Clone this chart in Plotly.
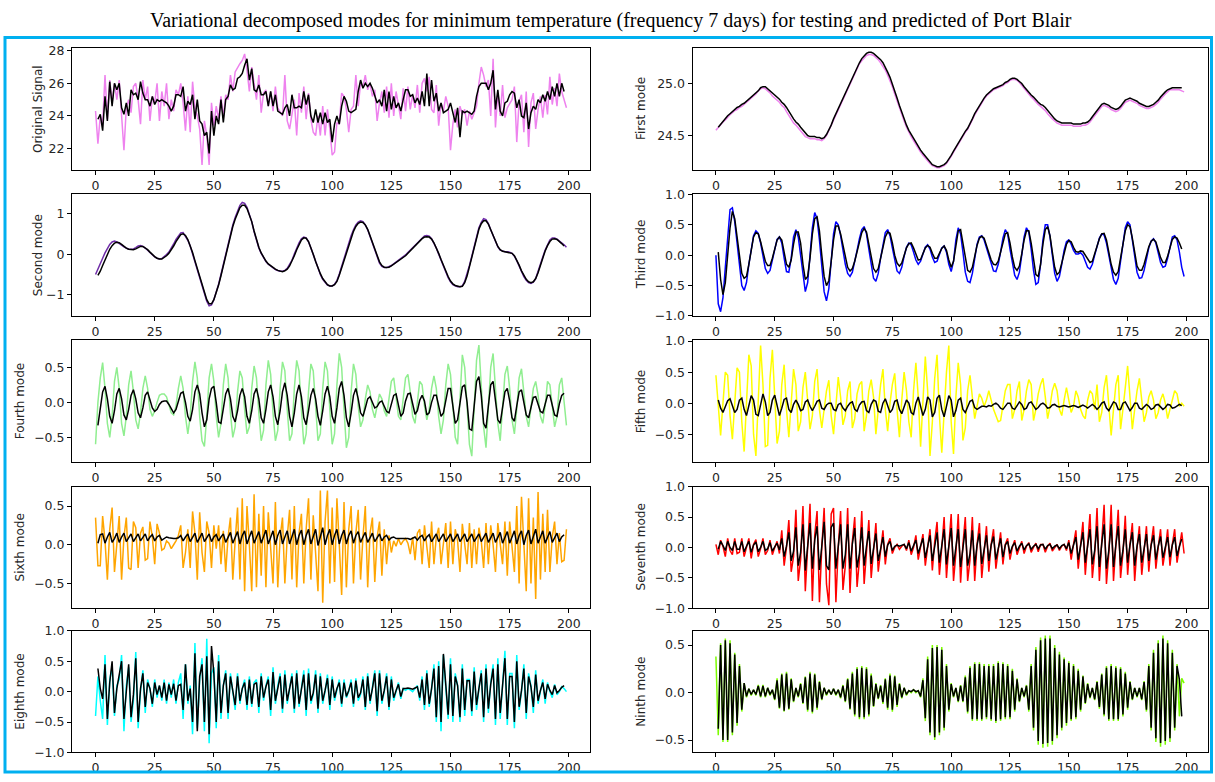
import plotly.graph_objects as go

W, H = 1215, 782

# ---------------------------------------------------------------- axis ticks
x_ticks = [0, 25, 50, 75, 100, 125, 150, 175, 200]
orig_ticks = [22, 24, 26, 28]
first_ticks = [24.5, 25.0]
second_ticks = [-1, 0, 1]
unit_ticks = [-1.0, -0.5, 0.0, 0.5, 1.0]
half_ticks = [-0.5, 0.0, 0.5]
fifth_ticks = [-0.5, 0.0, 0.5, 1.0]

# ---------------------------------------------------------------- series
# *_test : testing data, days 0..199 ; *_pred : predicted, days 1..198
orig_test = [
    24.3, 22.3, 24.0, 23.5, 26.5, 23.8, 26.2, 24.8, 26.0, 25.0,
    26.2, 24.2, 21.9, 24.5, 25.0, 24.2, 25.8, 26.0, 25.0, 23.5,
    26.2, 25.0, 25.8, 23.7, 25.2, 24.8, 26.0, 23.7, 25.5, 24.6,
    26.0, 23.8, 25.0, 24.3, 25.6, 25.3, 26.0, 24.8, 23.1, 25.2,
    23.0, 26.1, 24.5, 24.0, 23.2, 21.0, 23.7, 22.8, 21.0, 24.8,
    23.4, 24.6, 23.8, 25.2, 23.9, 25.3, 25.0, 26.5, 25.5, 26.7,
    27.0, 27.2, 27.4, 27.8, 26.8, 25.5, 27.0, 26.0, 25.0, 26.5,
    24.2, 25.4, 25.6, 24.6, 25.5, 24.3, 25.8, 24.5, 24.2, 24.0,
    26.5, 23.7, 23.2, 24.2, 25.0, 22.8, 25.4, 24.2, 25.8, 23.8,
    25.4, 23.8, 23.0, 22.8, 24.0, 22.8, 24.6, 22.8, 24.4, 23.2,
    21.6, 21.8, 23.6, 23.5, 25.4, 25.2, 24.4, 23.0, 24.4, 24.6,
    26.5, 24.6, 26.0, 25.8, 26.5, 25.6, 26.0, 25.2, 25.6, 23.7,
    24.8, 25.5, 24.2, 25.8, 23.9, 26.0, 24.0, 25.5, 24.6, 23.8,
    25.7, 24.3, 25.8, 24.4, 25.3, 24.5, 25.9, 24.2, 26.0, 26.3,
    25.5, 26.4, 24.4, 24.2, 25.9, 23.4, 24.8, 24.3, 25.2, 24.6,
    21.9, 23.5, 24.4, 23.3, 24.6, 24.1, 24.4, 23.4, 24.3, 23.8,
    24.2, 24.6, 26.0, 27.0, 26.5, 25.8, 26.2, 24.0, 27.5, 23.3,
    25.5, 24.0, 25.9, 23.9, 24.5, 24.8, 25.0, 25.8, 22.4, 24.9,
    25.3, 23.0, 25.5, 22.1, 24.8, 25.4, 23.2, 24.4, 25.2, 23.9,
    25.3, 24.1, 26.4, 24.7, 25.7, 24.6, 26.6, 25.5, 25.0, 24.5,
]
orig_pred = [
    23.8, 24.1, 23.1, 25.2, 23.7, 26.1, 24.6, 26.0, 25.6, 26.0,
    24.5, 24.1, 24.8, 24.0, 25.6, 25.3, 25.4, 25.0, 26.1, 25.4,
    25.0, 25.0, 24.6, 25.2, 24.7, 25.0, 24.9, 25.0, 24.9, 24.8,
    24.6, 24.3, 24.6, 25.3, 25.3, 25.2, 25.8, 24.3, 24.9, 24.7,
    25.3, 23.8, 25.0, 23.7, 23.5, 22.8, 23.0, 21.7, 24.3, 22.8,
    24.0, 23.5, 25.0, 23.6, 25.0, 25.2, 25.9, 25.6, 25.7, 26.3,
    26.4, 26.6, 27.1, 27.5, 26.2, 26.9, 25.6, 25.5, 25.9, 25.3,
    25.3, 25.5, 24.6, 25.5, 24.6, 25.3, 24.3, 24.2, 24.1, 24.5,
    24.7, 24.0, 25.3, 24.5, 24.5, 24.6, 24.5, 25.5, 24.7, 25.3,
    24.0, 23.6, 24.4, 23.6, 24.2, 23.5, 24.2, 23.6, 23.8, 22.4,
    23.5, 24.0, 23.5, 24.6, 25.2, 24.9, 24.3, 24.2, 24.3, 24.4,
    25.5, 26.2, 25.7, 26.0, 25.8, 26.0, 25.7, 25.2, 24.8, 25.0,
    24.6, 25.6, 24.3, 25.5, 24.4, 25.2, 24.5, 24.8, 24.3, 25.0,
    25.6, 25.6, 25.2, 25.3, 24.8, 25.1, 24.7, 25.5, 24.6, 26.6,
    24.6, 26.2, 24.9, 25.4, 24.3, 24.8, 24.2, 24.3, 24.4, 24.8,
    24.2, 23.6, 24.5, 22.7, 24.3, 24.2, 24.3, 24.2, 24.1, 24.3,
    25.2, 25.8, 26.0, 26.0, 26.0, 25.6, 26.0, 26.8, 24.4, 25.6,
    24.3, 24.0, 24.8, 24.9, 25.3, 25.5, 25.4, 24.5, 25.0, 24.0,
    23.9, 24.8, 23.2, 24.2, 24.6, 24.4, 25.0, 24.8, 25.3, 24.9,
    25.5, 25.0, 25.8, 25.2, 26.0, 25.2, 26.0, 25.5,
]

first_test = [
    24.55, 24.58, 24.60, 24.63, 24.65, 24.68, 24.70, 24.72, 24.74, 24.75,
    24.77, 24.78, 24.80, 24.82, 24.84, 24.86, 24.88, 24.90, 24.93, 24.95,
    24.96, 24.95, 24.93, 24.91, 24.88, 24.86, 24.84, 24.82, 24.79, 24.77,
    24.73, 24.69, 24.65, 24.62, 24.60, 24.57, 24.54, 24.51, 24.49, 24.48,
    24.47, 24.47, 24.47, 24.46, 24.46, 24.45, 24.47, 24.50, 24.55, 24.60,
    24.65, 24.70, 24.75, 24.80, 24.85, 24.90, 24.95, 25.00, 25.05, 25.10,
    25.15, 25.19, 25.22, 25.25, 25.27, 25.28, 25.28, 25.27, 25.25, 25.23,
    25.20, 25.17, 25.13, 25.08, 25.03, 24.97, 24.90, 24.83, 24.76, 24.70,
    24.64, 24.58, 24.53, 24.49, 24.45, 24.41, 24.37, 24.34, 24.31, 24.28,
    24.25, 24.23, 24.21, 24.20, 24.19, 24.19, 24.20, 24.21, 24.23, 24.26,
    24.30, 24.34, 24.38, 24.42, 24.46, 24.50, 24.53, 24.56, 24.60, 24.65,
    24.70, 24.74, 24.78, 24.82, 24.85, 24.88, 24.90, 24.92, 24.94, 24.95,
    24.96, 24.97, 24.98, 25.00, 25.01, 25.03, 25.04, 25.04, 25.03, 25.01,
    24.98, 24.95, 24.92, 24.90, 24.87, 24.85, 24.82, 24.80, 24.78, 24.76,
    24.74, 24.71, 24.68, 24.66, 24.64, 24.62, 24.61, 24.60, 24.60, 24.60,
    24.60, 24.60, 24.59, 24.59, 24.59, 24.59, 24.60, 24.60, 24.61, 24.63,
    24.66, 24.69, 24.72, 24.76, 24.78, 24.79, 24.78, 24.77, 24.75, 24.74,
    24.73, 24.74, 24.76, 24.79, 24.82, 24.83, 24.84, 24.83, 24.82, 24.81,
    24.79, 24.78, 24.77, 24.76, 24.76, 24.77, 24.78, 24.80, 24.82, 24.85,
    24.88, 24.90, 24.92, 24.94, 24.94, 24.94, 24.94, 24.94, 24.93, 24.92,
]
first_pred = [
    24.58, 24.61, 24.64, 24.67, 24.69, 24.71, 24.73, 24.75, 24.77, 24.78,
    24.80, 24.81, 24.83, 24.85, 24.87, 24.89, 24.91, 24.93, 24.96, 24.97,
    24.97, 24.95, 24.93, 24.91, 24.89, 24.87, 24.85, 24.82, 24.80, 24.77,
    24.73, 24.69, 24.66, 24.63, 24.61, 24.58, 24.55, 24.52, 24.50, 24.49,
    24.49, 24.49, 24.48, 24.48, 24.47, 24.48, 24.51, 24.55, 24.60, 24.66,
    24.71, 24.76, 24.81, 24.86, 24.91, 24.96, 25.01, 25.06, 25.11, 25.16,
    25.20, 25.24, 25.27, 25.29, 25.30, 25.30, 25.29, 25.27, 25.25, 25.23,
    25.20, 25.16, 25.11, 25.06, 25.00, 24.93, 24.86, 24.79, 24.72, 24.66,
    24.60, 24.55, 24.51, 24.47, 24.43, 24.39, 24.36, 24.33, 24.30, 24.27,
    24.24, 24.22, 24.21, 24.20, 24.20, 24.21, 24.22, 24.24, 24.27, 24.31,
    24.35, 24.39, 24.43, 24.47, 24.51, 24.54, 24.57, 24.61, 24.66, 24.71,
    24.75, 24.79, 24.83, 24.86, 24.89, 24.91, 24.93, 24.95, 24.96, 24.97,
    24.98, 24.99, 25.01, 25.02, 25.04, 25.05, 25.05, 25.04, 25.02, 25.00,
    24.97, 24.94, 24.92, 24.89, 24.87, 24.84, 24.82, 24.80, 24.79, 24.77,
    24.74, 24.71, 24.68, 24.66, 24.64, 24.63, 24.62, 24.62, 24.62, 24.62,
    24.62, 24.61, 24.61, 24.61, 24.61, 24.62, 24.62, 24.63, 24.65, 24.68,
    24.71, 24.74, 24.78, 24.80, 24.81, 24.80, 24.79, 24.77, 24.76, 24.75,
    24.76, 24.78, 24.81, 24.84, 24.85, 24.86, 24.85, 24.84, 24.83, 24.81,
    24.80, 24.79, 24.78, 24.78, 24.79, 24.80, 24.82, 24.84, 24.87, 24.90,
    24.92, 24.94, 24.95, 24.96, 24.96, 24.96, 24.96, 24.96,
]

second_test = [
    -0.50, -0.38, -0.24, -0.10, 0.03, 0.15, 0.24, 0.30, 0.32, 0.30,
    0.27, 0.22, 0.18, 0.14, 0.12, 0.12, 0.13, 0.16, 0.20, 0.21,
    0.19, 0.15, 0.09, 0.03, -0.02, -0.07, -0.10, -0.12, -0.11, -0.07,
    -0.01, 0.05, 0.14, 0.25, 0.36, 0.45, 0.52, 0.53, 0.45, 0.34,
    0.20, 0.01, -0.20, -0.40, -0.60, -0.80, -1.00, -1.16, -1.27, -1.25,
    -1.12, -0.95, -0.74, -0.50, -0.25, 0.00, 0.25, 0.50, 0.72, 0.90,
    1.07, 1.20, 1.27, 1.25, 1.15, 1.00, 0.80, 0.55, 0.33, 0.15,
    0.02, -0.10, -0.18, -0.25, -0.30, -0.35, -0.38, -0.40, -0.42, -0.42,
    -0.40, -0.35, -0.26, -0.15, 0.00, 0.15, 0.28, 0.38, 0.42, 0.40,
    0.30, 0.15, -0.02, -0.20, -0.36, -0.50, -0.62, -0.70, -0.76, -0.78,
    -0.78, -0.74, -0.65, -0.49, -0.30, -0.10, 0.10, 0.28, 0.45, 0.60,
    0.72, 0.79, 0.82, 0.80, 0.72, 0.60, 0.43, 0.25, 0.07, -0.10,
    -0.22, -0.30, -0.33, -0.33, -0.31, -0.28, -0.24, -0.20, -0.16, -0.12,
    -0.07, -0.02, 0.04, 0.10, 0.16, 0.22, 0.29, 0.35, 0.41, 0.45,
    0.46, 0.44, 0.38, 0.28, 0.15, 0.00, -0.15, -0.30, -0.45, -0.58,
    -0.68, -0.75, -0.78, -0.80, -0.80, -0.78, -0.67, -0.50, -0.28, -0.05,
    0.20, 0.45, 0.65, 0.78, 0.87, 0.85, 0.75, 0.60, 0.45, 0.30,
    0.18, 0.10, 0.07, 0.06, 0.06, 0.05, 0.02, -0.05, -0.16, -0.30,
    -0.43, -0.55, -0.64, -0.70, -0.72, -0.69, -0.60, -0.44, -0.25, -0.07,
    0.10, 0.24, 0.35, 0.40, 0.40, 0.37, 0.33, 0.28, 0.23, 0.17,
]
second_pred = [
    -0.52, -0.42, -0.28, -0.13, 0.00, 0.12, 0.21, 0.27, 0.29, 0.28,
    0.24, 0.19, 0.15, 0.12, 0.11, 0.11, 0.13, 0.16, 0.19, 0.19,
    0.16, 0.11, 0.05, -0.01, -0.06, -0.10, -0.12, -0.12, -0.09, -0.04,
    0.02, 0.10, 0.20, 0.31, 0.41, 0.48, 0.50, 0.46, 0.36, 0.22,
    0.04, -0.16, -0.36, -0.56, -0.76, -0.96, -1.12, -1.22, -1.22, -1.12,
    -0.96, -0.76, -0.53, -0.28, -0.03, 0.22, 0.46, 0.68, 0.86, 1.02,
    1.14, 1.20, 1.20, 1.12, 0.98, 0.80, 0.57, 0.35, 0.17, 0.03,
    -0.08, -0.17, -0.24, -0.29, -0.34, -0.37, -0.40, -0.42, -0.43, -0.41,
    -0.37, -0.29, -0.18, -0.04, 0.11, 0.25, 0.35, 0.40, 0.39, 0.31,
    0.17, 0.00, -0.18, -0.34, -0.48, -0.60, -0.69, -0.75, -0.78, -0.78,
    -0.75, -0.67, -0.52, -0.34, -0.14, 0.06, 0.24, 0.41, 0.56, 0.68,
    0.76, 0.79, 0.78, 0.72, 0.61, 0.45, 0.28, 0.10, -0.07, -0.19,
    -0.28, -0.32, -0.33, -0.32, -0.29, -0.25, -0.21, -0.17, -0.13, -0.09,
    -0.04, 0.02, 0.08, 0.14, 0.20, 0.27, 0.33, 0.38, 0.42, 0.43,
    0.42, 0.37, 0.28, 0.16, 0.02, -0.13, -0.28, -0.42, -0.55, -0.66,
    -0.73, -0.77, -0.79, -0.80, -0.79, -0.70, -0.54, -0.32, -0.09, 0.16,
    0.40, 0.61, 0.75, 0.82, 0.82, 0.74, 0.60, 0.45, 0.31, 0.19,
    0.11, 0.07, 0.06, 0.05, 0.04, 0.02, -0.04, -0.14, -0.27, -0.41,
    -0.53, -0.62, -0.68, -0.70, -0.68, -0.60, -0.46, -0.27, -0.09, 0.08,
    0.21, 0.31, 0.37, 0.38, 0.36, 0.32, 0.26, 0.20,
]

third_test = [
    0.0, -0.8, -0.93, -0.7, -0.2, 0.35, 0.75, 0.78, 0.55, 0.2,
    -0.2, -0.5, -0.58, -0.45, -0.15, 0.12, 0.32, 0.4, 0.36, 0.2,
    -0.02, -0.22, -0.3, -0.25, -0.08, 0.12, 0.26, 0.3, 0.2, -0.05,
    -0.27, -0.28, -0.05, 0.3, 0.42, 0.3, 0.0, -0.38, -0.6, -0.45,
    -0.05, 0.45, 0.7, 0.6, 0.25, -0.2, -0.6, -0.75, -0.55, -0.1,
    0.35, 0.55, 0.5, 0.32, 0.08, -0.15, -0.3, -0.35, -0.28, -0.12,
    0.08, 0.27, 0.42, 0.47, 0.35, 0.1, -0.18, -0.38, -0.43, -0.3,
    -0.05, 0.2, 0.37, 0.42, 0.32, 0.12, -0.1, -0.26, -0.3, -0.2,
    -0.02, 0.13, 0.2, 0.17, 0.05, -0.08, -0.15, -0.1, 0.02, 0.13,
    0.17, 0.1, -0.03, -0.12, -0.1, 0.02, 0.12, 0.15, 0.05, -0.15,
    -0.27, -0.1, 0.25, 0.45, 0.35, 0.05, -0.28, -0.43, -0.45, -0.3,
    -0.05, 0.18, 0.3, 0.32, 0.25, 0.12, -0.03, -0.17, -0.26, -0.27,
    -0.15, 0.05, 0.28, 0.42, 0.35, 0.1, -0.15, -0.33, -0.4, -0.28,
    0.0, 0.3, 0.45, 0.38, 0.1, -0.25, -0.48, -0.45, -0.15, 0.25,
    0.5, 0.5, 0.3, 0.0, -0.3, -0.43, -0.35, -0.15, 0.08, 0.22,
    0.25, 0.18, 0.08, 0.02, 0.02, 0.04, 0.0, -0.1, -0.2, -0.23,
    -0.15, 0.0, 0.15, 0.28, 0.35, 0.33, 0.2, 0.0, -0.22, -0.4,
    -0.48, -0.38, -0.1, 0.2, 0.45, 0.55, 0.5, 0.25, -0.05, -0.28,
    -0.38, -0.37, -0.25, -0.05, 0.12, 0.23, 0.27, 0.2, 0.05, -0.12,
    -0.2, -0.18, -0.05, 0.15, 0.3, 0.32, 0.25, 0.05, -0.2, -0.35,
]
third_pred = [
    0.05, -0.4, -0.65, -0.45, 0.0, 0.45, 0.72, 0.6, 0.3, -0.05,
    -0.3, -0.38, -0.35, -0.15, 0.1, 0.3, 0.37, 0.35, 0.22, 0.05,
    -0.1, -0.17, -0.17, -0.05, 0.12, 0.25, 0.3, 0.25, 0.05, -0.15,
    -0.2, -0.08, 0.18, 0.38, 0.38, 0.2, -0.15, -0.4, -0.35, -0.05,
    0.35, 0.6, 0.63, 0.4, 0.0, -0.35, -0.5, -0.42, -0.1, 0.25,
    0.48, 0.48, 0.35, 0.15, -0.05, -0.2, -0.26, -0.22, -0.1, 0.06,
    0.22, 0.37, 0.44, 0.38, 0.18, -0.05, -0.22, -0.28, -0.22, -0.05,
    0.15, 0.3, 0.38, 0.36, 0.2, 0.0, -0.13, -0.18, -0.13, 0.0,
    0.12, 0.19, 0.2, 0.12, 0.0, -0.08, -0.07, 0.03, 0.12, 0.16,
    0.13, 0.03, -0.05, -0.05, 0.03, 0.11, 0.15, 0.08, -0.08, -0.2,
    -0.1, 0.18, 0.4, 0.42, 0.2, -0.08, -0.25, -0.28, -0.2, -0.02,
    0.16, 0.28, 0.31, 0.28, 0.16, 0.03, -0.08, -0.15, -0.16, -0.1,
    0.04, 0.2, 0.35, 0.37, 0.2, -0.03, -0.2, -0.25, -0.18, 0.02,
    0.25, 0.4, 0.4, 0.2, -0.1, -0.32, -0.35, -0.15, 0.18, 0.42,
    0.47, 0.32, 0.05, -0.2, -0.32, -0.28, -0.13, 0.05, 0.18, 0.24,
    0.22, 0.13, 0.06, 0.05, 0.07, 0.06, 0.0, -0.08, -0.12, -0.1,
    0.02, 0.15, 0.27, 0.35, 0.36, 0.25, 0.05, -0.15, -0.28, -0.33,
    -0.27, -0.05, 0.2, 0.4, 0.5, 0.47, 0.28, 0.02, -0.18, -0.25,
    -0.25, -0.15, 0.0, 0.14, 0.23, 0.26, 0.22, 0.1, -0.04, -0.12,
    -0.12, -0.02, 0.13, 0.26, 0.3, 0.28, 0.2, 0.1,
]

fourth_test = [
    -0.6, 0.0, 0.35, 0.57, 0.2, -0.3, -0.5, -0.2, 0.3, 0.5,
    0.2, -0.3, -0.48, -0.2, 0.25, 0.45, 0.15, -0.25, -0.38, -0.15,
    0.2, 0.38, 0.2, -0.1, -0.2, -0.12, 0.0, 0.1, 0.12, 0.12,
    0.08, -0.05, -0.15, -0.18, -0.05, 0.2, 0.38, 0.2, -0.2, -0.45,
    -0.2, 0.3, 0.58, 0.35, -0.2, -0.55, -0.63, -0.2, 0.35, 0.55,
    0.3, -0.2, -0.5, -0.3, 0.25, 0.55, 0.35, -0.15, -0.5, -0.35,
    0.15, 0.45, 0.35, -0.1, -0.45, -0.35, 0.2, 0.52, 0.35, -0.15,
    -0.55, -0.4, 0.25, 0.6, 0.4, -0.15, -0.55, -0.4, 0.2, 0.58,
    0.45, -0.1, -0.55, -0.45, 0.2, 0.6, 0.45, -0.1, -0.6, -0.45,
    0.15, 0.55, 0.45, -0.05, -0.55, -0.45, 0.2, 0.58, 0.45, -0.1,
    -0.6, -0.45, 0.25, 0.7, 0.5, -0.1, -0.65, -0.5, 0.15, 0.55,
    0.4, -0.05, -0.35, -0.25, 0.05, 0.25, 0.15, -0.1, -0.22, -0.05,
    0.12, 0.05, -0.12, -0.2, 0.05, 0.3, 0.35, 0.1, -0.2, -0.25,
    0.05, 0.35, 0.4, 0.15, -0.2, -0.3, 0.0, 0.3, 0.25, -0.05,
    -0.25, -0.1, 0.2, 0.38, 0.2, -0.2, -0.45, -0.25, 0.25, 0.55,
    0.4, -0.1, -0.5, -0.6, 0.1, 0.68, 0.5, -0.1, -0.6, -0.77,
    0.0, 0.6, 0.82, 0.3, -0.35, -0.65, -0.1, 0.5, 0.7, 0.25,
    -0.3, -0.55, -0.1, 0.4, 0.52, 0.2, -0.25, -0.45, -0.1, 0.35,
    0.48, 0.15, -0.2, -0.35, -0.1, 0.2, 0.3, 0.1, -0.2, -0.3,
    -0.05, 0.3, 0.25, -0.1, -0.35, -0.2, 0.25, 0.35, 0.05, -0.33,
]
fourth_pred = [
    -0.33, -0.1, 0.15, 0.23, 0.05, -0.2, -0.3, -0.12, 0.12, 0.2,
    0.05, -0.18, -0.25, -0.1, 0.1, 0.18, 0.05, -0.15, -0.22, -0.08,
    0.1, 0.15, 0.05, -0.08, -0.13, -0.1, -0.03, 0.01, 0.02, 0.02,
    -0.03, -0.1, -0.15, -0.1, 0.03, 0.13, 0.15, 0.0, -0.2, -0.27,
    -0.1, 0.15, 0.25, 0.12, -0.15, -0.35, -0.25, 0.05, 0.2, 0.23,
    0.0, -0.28, -0.3, -0.1, 0.12, 0.2, 0.05, -0.2, -0.28, -0.12,
    0.1, 0.2, 0.08, -0.2, -0.3, -0.12, 0.12, 0.2, 0.05, -0.22,
    -0.3, -0.1, 0.15, 0.25, 0.08, -0.2, -0.32, -0.12, 0.15, 0.28,
    0.1, -0.2, -0.35, -0.15, 0.12, 0.25, 0.08, -0.22, -0.32, -0.12,
    0.1, 0.2, 0.05, -0.2, -0.33, -0.12, 0.12, 0.23, 0.08, -0.2,
    -0.3, -0.08, 0.2, 0.3, 0.1, -0.22, -0.35, -0.15, 0.1, 0.2,
    0.05, -0.15, -0.2, -0.08, 0.05, 0.08, 0.0, -0.08, -0.06, 0.0,
    0.02, -0.05, -0.13, -0.15, -0.02, 0.1, 0.12, -0.02, -0.2, -0.15,
    0.02, 0.12, 0.13, -0.02, -0.17, -0.12, 0.03, 0.1, 0.02, -0.18,
    -0.15, 0.0, 0.1, 0.1, -0.05, -0.2, -0.15, 0.05, 0.2, 0.2,
    -0.05, -0.3, -0.25, 0.0, 0.22, 0.25, 0.0, -0.38, -0.4, -0.05,
    0.3, 0.37, 0.1, -0.3, -0.37, -0.05, 0.25, 0.3, 0.05, -0.25,
    -0.3, -0.05, 0.15, 0.2, 0.02, -0.22, -0.27, -0.05, 0.15, 0.18,
    0.0, -0.18, -0.22, -0.05, 0.07, 0.08, -0.03, -0.13, -0.15, -0.02,
    0.1, 0.1, -0.05, -0.18, -0.2, -0.02, 0.1, 0.13,
]

fifth_test = [
    0.45, -0.1, -0.52, 0.0, 0.5, 0.45, -0.2, -0.58, 0.1, 0.57,
    0.5, -0.3, -0.78, 0.1, 0.78, 0.6, -0.5, -0.85, 0.2, 0.93,
    0.3, -0.7, -0.68, 0.4, 0.86, 0.1, -0.65, -0.45, 0.3, 0.62,
    -0.1, -0.55, 0.0, 0.55, 0.3, -0.45, -0.3, 0.25, 0.5, 0.0,
    -0.42, -0.2, 0.35, 0.55, -0.1, -0.4, -0.1, 0.2, 0.37, -0.2,
    -0.5, 0.0, 0.42, 0.1, -0.35, -0.2, 0.2, 0.35, -0.4, -0.25,
    0.15, 0.3, 0.35, -0.45, -0.2, 0.2, 0.38, 0.1, -0.5, -0.1,
    0.3, 0.55, -0.1, -0.45, 0.0, 0.3, 0.48, -0.1, -0.55, 0.05,
    0.5, 0.2, -0.3, -0.55, 0.2, 0.65, 0.1, -0.7, 0.0, 0.75,
    0.2, -0.85, -0.3, 0.4, 0.78, -0.2, -0.8, -0.1, 0.5, 0.93,
    -0.3, -0.82, 0.1, 0.65, 0.3, -0.6, -0.4, 0.2, 0.45, 0.1,
    -0.25, -0.05, 0.15, 0.08, -0.05, 0.05, 0.2, 0.05, -0.1, -0.2,
    -0.3, -0.28, 0.0, 0.2, 0.3, 0.3, -0.25, -0.1, 0.2, 0.35,
    -0.28, -0.1, 0.2, 0.38, 0.3, -0.28, -0.1, 0.15, 0.3, 0.4,
    0.1, -0.25, -0.05, 0.2, 0.32, 0.2, -0.1, -0.2, 0.05, 0.25,
    0.05, -0.15, -0.05, 0.2, 0.1, -0.1, -0.2, -0.25, 0.05, 0.2,
    0.15, -0.1, 0.3, -0.3, -0.15, 0.25, 0.45, 0.0, -0.52, -0.1,
    0.3, 0.45, -0.42, -0.1, 0.3, 0.6, 0.1, -0.42, -0.1, 0.2,
    0.4, 0.05, -0.3, -0.15, 0.1, 0.2, 0.05, -0.25, -0.15, 0.05,
    0.15, 0.0, -0.25, -0.1, 0.05, 0.2, 0.15, -0.05, 0.0, -0.05,
]
fifth_pred = [
    0.05, -0.08, -0.15, -0.05, 0.04, 0.07, -0.05, -0.15, -0.1, 0.05,
    0.08, -0.1, -0.2, -0.05, 0.12, 0.05, -0.18, -0.2, 0.0, 0.15,
    0.02, -0.2, -0.15, 0.05, 0.13, -0.05, -0.2, -0.08, 0.06, 0.08,
    -0.1, -0.15, -0.02, 0.05, -0.02, -0.12, -0.1, 0.02, 0.05, -0.05,
    -0.12, -0.05, 0.03, 0.05, -0.08, -0.1, -0.03, 0.0, 0.0, -0.1,
    -0.12, -0.02, 0.0, -0.08, -0.12, -0.05, 0.0, 0.02, -0.1, -0.13,
    -0.03, 0.02, 0.03, -0.12, -0.15, -0.02, 0.05, 0.03, -0.13, -0.15,
    0.0, 0.07, -0.05, -0.15, -0.1, 0.03, 0.05, -0.1, -0.17, -0.05,
    0.05, 0.0, -0.15, -0.18, 0.0, 0.1, -0.05, -0.2, -0.1, 0.1,
    0.05, -0.22, -0.15, 0.08, 0.13, -0.1, -0.22, -0.05, 0.12, 0.05,
    -0.22, -0.12, 0.05, 0.08, -0.1, -0.15, -0.05, 0.03, 0.05, -0.07,
    -0.1, -0.07, -0.05, -0.05, -0.06, -0.04, -0.05, -0.02, 0.0, -0.03,
    -0.08, -0.1, -0.05, 0.0, 0.0, -0.08, -0.1, -0.03, 0.02, -0.02,
    -0.1, -0.08, 0.0, 0.02, -0.05, -0.1, -0.07, -0.02, 0.0, -0.03,
    -0.08, -0.07, -0.03, -0.02, -0.05, -0.06, -0.05, -0.04, -0.05, -0.06,
    -0.05, -0.04, -0.05, -0.07, -0.05, -0.03, -0.05, -0.08, -0.05, -0.02,
    -0.05, -0.1, -0.06, 0.0, 0.02, -0.08, -0.12, -0.05, 0.02, 0.0,
    -0.1, -0.1, 0.0, 0.02, -0.05, -0.12, -0.07, 0.0, 0.0, -0.08,
    -0.1, -0.05, -0.02, -0.05, -0.1, -0.08, -0.03, -0.02, -0.06, -0.1,
    -0.07, -0.02, -0.03, -0.08, -0.07, -0.04, -0.02, -0.04,
]

sixth_test = [
    0.35, -0.27, -0.27, 0.37, 0.05, -0.45, 0.2, 0.48, -0.35, 0.0,
    0.37, -0.45, 0.1, 0.35, -0.3, -0.32, 0.3, 0.22, -0.3, 0.15,
    0.23, -0.2, -0.18, 0.3, 0.1, -0.25, 0.27, 0.15, -0.07, -0.05,
    0.05, 0.02, -0.05, 0.0, 0.05, 0.12, 0.25, -0.3, -0.1, 0.2,
    -0.3, 0.43, 0.15, -0.45, 0.42, -0.1, -0.35, 0.3, 0.15, -0.3,
    0.25, -0.05, 0.25, -0.25, 0.18, -0.35, 0.1, 0.35, -0.45, 0.05,
    0.48, -0.45, 0.6, -0.6, 0.5, 0.0, -0.6, 0.65, -0.55, 0.4,
    -0.4, 0.5, -0.55, 0.42, 0.0, -0.5, 0.55, -0.55, 0.1, 0.35,
    -0.5, 0.1, 0.45, -0.45, 0.5, -0.55, 0.15, 0.4, -0.5, 0.2,
    0.6, -0.45, 0.38, -0.1, -0.6, 0.7, -0.75, 0.3, 0.7, -0.5,
    0.48, -0.48, 0.6, 0.0, -0.65, 0.55, -0.55, 0.2, 0.5, -0.5,
    0.15, 0.45, -0.45, 0.1, 0.5, -0.55, 0.15, 0.35, -0.48, 0.1,
    0.3, -0.4, 0.2, -0.25, 0.12, -0.1, 0.05, -0.02, 0.08, 0.0,
    0.05, 0.08, 0.02, -0.12, 0.1, -0.2, 0.15, 0.2, -0.25, 0.25,
    0.0, -0.3, 0.3, -0.25, 0.1, 0.22, -0.25, 0.05, 0.28, -0.3,
    0.3, -0.25, 0.2, 0.05, -0.35, 0.27, 0.0, -0.25, 0.28, -0.3,
    0.2, -0.25, 0.22, 0.05, -0.3, 0.28, -0.25, 0.25, 0.0, -0.35,
    0.28, 0.05, -0.25, 0.3, -0.4, 0.3, 0.0, -0.35, 0.5, -0.5,
    0.62, 0.0, -0.6, 0.6, -0.5, 0.35, -0.7, 0.68, -0.45, 0.4,
    -0.35, 0.45, -0.35, 0.1, 0.3, -0.25, 0.15, -0.22, -0.2, 0.2,
]
sixth_pred = [
    0.02, 0.13, 0.14, 0.02, 0.1, 0.16, 0.03, 0.08, 0.15, 0.03,
    0.1, 0.15, 0.04, 0.1, 0.14, 0.04, 0.1, 0.14, 0.05, 0.1,
    0.14, 0.05, 0.1, 0.13, 0.05, 0.1, 0.12, 0.06, 0.08, 0.1,
    0.09, 0.08, 0.08, 0.08, 0.09, 0.12, 0.05, 0.1, 0.14, 0.04,
    0.1, 0.15, 0.03, 0.1, 0.15, 0.04, 0.1, 0.14, 0.04, 0.1,
    0.13, 0.05, 0.1, 0.14, 0.03, 0.1, 0.16, 0.02, 0.1, 0.17,
    0.01, 0.12, 0.18, 0.01, 0.1, 0.18, 0.02, 0.1, 0.17, 0.02,
    0.12, 0.19, 0.01, 0.1, 0.18, 0.0, 0.12, 0.19, 0.01, 0.1,
    0.18, 0.01, 0.12, 0.2, 0.0, 0.12, 0.19, 0.0, 0.12, 0.2,
    0.01, 0.12, 0.2, -0.01, 0.12, 0.22, 0.0, 0.12, 0.2, 0.0,
    0.12, 0.2, 0.01, 0.12, 0.19, 0.01, 0.12, 0.18, 0.02, 0.12,
    0.17, 0.03, 0.1, 0.16, 0.03, 0.1, 0.15, 0.04, 0.1, 0.14,
    0.05, 0.1, 0.12, 0.06, 0.09, 0.1, 0.08, 0.08, 0.08, 0.08,
    0.08, 0.08, 0.07, 0.09, 0.1, 0.06, 0.1, 0.12, 0.05, 0.1,
    0.13, 0.04, 0.1, 0.14, 0.04, 0.1, 0.14, 0.04, 0.1, 0.14,
    0.04, 0.1, 0.14, 0.04, 0.1, 0.14, 0.04, 0.1, 0.14, 0.04,
    0.1, 0.14, 0.04, 0.1, 0.15, 0.03, 0.1, 0.15, 0.03, 0.1,
    0.16, 0.02, 0.1, 0.17, 0.02, 0.1, 0.18, 0.01, 0.12, 0.18,
    0.0, 0.12, 0.19, 0.01, 0.12, 0.2, 0.02, 0.1, 0.18, 0.02,
    0.1, 0.17, 0.03, 0.1, 0.15, 0.04, 0.1, 0.13,
]

seventh_test = [
    0.05, -0.12, 0.12, 0.02, -0.15, 0.15, -0.05, -0.12, 0.15, -0.1,
    -0.08, 0.15, -0.15, 0.0, 0.15, -0.18, 0.05, 0.13, -0.15, -0.02,
    0.15, -0.12, -0.05, 0.12, -0.12, 0.0, 0.1, -0.1, 0.28, -0.3,
    0.0, 0.45, -0.4, -0.15, 0.62, -0.55, -0.2, 0.68, -0.72, 0.0,
    0.72, -0.88, 0.2, 0.6, -0.9, 0.0, 0.65, -0.6, -0.95, 0.55,
    0.65, -0.9, 0.0, 0.6, -0.7, -0.3, 0.65, -0.75, 0.1, 0.5,
    -0.65, -0.2, 0.6, -0.6, 0.0, 0.45, -0.5, 0.0, 0.4, -0.4,
    -0.05, 0.28, -0.28, 0.05, 0.15, -0.1, 0.0, 0.05, -0.03, 0.02,
    0.05, -0.05, 0.12, -0.12, 0.0, 0.2, -0.2, 0.05, 0.22, -0.3,
    0.0, 0.3, -0.38, 0.1, 0.42, -0.45, 0.0, 0.5, -0.5, 0.05,
    0.55, -0.55, -0.1, 0.55, -0.58, 0.05, 0.5, -0.55, -0.2, 0.5,
    -0.55, 0.05, 0.4, -0.5, -0.1, 0.35, -0.4, 0.05, 0.3, -0.35,
    -0.05, 0.25, -0.28, 0.05, 0.15, -0.2, 0.0, 0.12, -0.12, 0.0,
    0.1, -0.1, 0.02, 0.08, -0.08, 0.0, 0.07, -0.07, 0.05, 0.05,
    -0.08, 0.02, 0.07, -0.06, 0.0, 0.05, -0.05, 0.02, 0.05, -0.05,
    0.12, -0.2, 0.05, 0.28, -0.35, 0.0, 0.42, -0.45, 0.1, 0.55,
    -0.5, -0.1, 0.65, -0.55, 0.1, 0.7, -0.6, -0.1, 0.7, -0.55,
    0.05, 0.62, -0.5, -0.1, 0.52, -0.45, 0.05, 0.4, -0.55, 0.0,
    0.35, -0.45, -0.05, 0.35, -0.4, 0.05, 0.35, -0.35, 0.0, 0.3,
    -0.3, -0.05, 0.3, -0.3, 0.05, 0.3, -0.25, 0.0, 0.25, -0.1,
]
seventh_pred = [
    -0.03, 0.1, 0.03, -0.05, 0.1, 0.0, -0.05, 0.1, -0.03, -0.03,
    0.1, -0.07, 0.02, 0.1, -0.08, 0.04, 0.09, -0.07, 0.0, 0.1,
    -0.05, -0.02, 0.08, -0.06, 0.01, 0.07, -0.04, 0.15, -0.15, 0.02,
    0.25, -0.22, -0.06, 0.33, -0.3, -0.08, 0.38, -0.38, 0.02, 0.4,
    -0.35, 0.12, 0.35, -0.37, 0.02, 0.42, -0.3, -0.37, 0.33, 0.4,
    -0.35, 0.02, 0.38, -0.35, -0.12, 0.38, -0.35, 0.06, 0.32, -0.33,
    -0.1, 0.33, -0.3, 0.02, 0.27, -0.27, 0.02, 0.23, -0.22, 0.0,
    0.17, -0.15, 0.04, 0.1, -0.05, 0.02, 0.04, 0.02, 0.03, 0.05,
    -0.02, 0.08, -0.06, 0.02, 0.12, -0.1, 0.04, 0.15, -0.17, 0.02,
    0.2, -0.22, 0.06, 0.25, -0.25, 0.02, 0.3, -0.28, 0.04, 0.32,
    -0.3, -0.04, 0.3, -0.32, 0.04, 0.3, -0.3, -0.1, 0.28, -0.3,
    0.04, 0.23, -0.27, -0.04, 0.2, -0.22, 0.04, 0.18, -0.2, -0.02,
    0.15, -0.16, 0.04, 0.1, -0.1, 0.02, 0.08, -0.06, 0.02, 0.07,
    -0.04, 0.03, 0.06, -0.03, 0.02, 0.05, -0.02, 0.04, 0.05, -0.03,
    0.03, 0.05, -0.02, 0.02, 0.04, -0.02, 0.03, 0.05, -0.02, 0.08,
    -0.1, 0.04, 0.17, -0.2, 0.02, 0.25, -0.25, 0.06, 0.3, -0.28,
    -0.05, 0.35, -0.32, 0.06, 0.38, -0.35, -0.05, 0.38, -0.32, 0.04,
    0.35, -0.3, -0.05, 0.3, -0.25, 0.04, 0.25, -0.3, 0.02, 0.22,
    -0.25, -0.02, 0.22, -0.22, 0.04, 0.2, -0.2, 0.02, 0.18, -0.17,
    -0.02, 0.17, -0.16, 0.04, 0.17, -0.14, 0.02, 0.14,
]

eighth_test = [
    -0.40, 0.25, -0.15, -0.45, 0.6, -0.55, 0.2, 0.4, -0.4, 0.1,
    0.2, 0.6, -0.65, 0.1, 0.4, -0.5, -0.15, 0.65, -0.6, 0.0,
    0.35, -0.35, 0.2, 0.05, -0.25, 0.2, -0.1, 0.1, -0.15, 0.2,
    -0.2, 0.15, -0.1, 0.2, -0.2, 0.15, 0.3, -0.45, 0.45, -0.2,
    0.1, -0.7, 0.8, -0.6, 0.2, 0.55, -0.65, 0.87, -0.85, 0.3,
    0.4, -0.6, 0.6, -0.45, 0.1, 0.35, -0.45, 0.3, 0.0, -0.3,
    0.3, -0.2, 0.05, 0.2, -0.3, 0.25, -0.25, 0.15, 0.2, -0.35,
    0.3, -0.15, 0.1, 0.25, -0.4, 0.4, -0.2, 0.1, 0.3, -0.35,
    0.35, -0.2, 0.05, 0.3, -0.35, 0.35, -0.25, 0.1, 0.35, -0.4,
    0.38, -0.2, -0.05, 0.35, -0.35, 0.3, -0.2, 0.0, 0.28, -0.3,
    0.25, -0.15, 0.05, 0.2, -0.25, 0.2, -0.1, 0.0, 0.2, -0.25,
    0.22, -0.15, -0.05, 0.25, -0.3, 0.3, -0.2, 0.05, 0.35, -0.4,
    0.35, -0.2, 0.0, 0.3, -0.3, 0.25, -0.15, 0.0, 0.15, -0.12,
    0.05, 0.02, 0.05, 0.03, 0.0, 0.05, 0.1, -0.15, 0.25, -0.3,
    0.35, -0.25, 0.05, 0.45, -0.5, 0.5, -0.65, 0.6, 0.0, -0.45,
    0.55, -0.5, 0.3, 0.1, -0.5, 0.45, -0.4, 0.2, 0.2, -0.4,
    0.4, -0.3, 0.05, 0.35, -0.5, 0.45, -0.35, 0.15, 0.45, -0.55,
    0.55, -0.45, 0.1, 0.67, -0.55, 0.3, 0.3, -0.6, 0.6, -0.3,
    0.0, 0.45, -0.45, 0.3, 0.1, -0.35, 0.35, -0.2, 0.0, 0.2,
    -0.2, 0.15, 0.0, -0.1, 0.12, -0.05, 0.0, 0.08, 0.05, 0.0,
]
eighth_pred = [
    0.38, 0.05, -0.12, 0.45, -0.45, 0.15, 0.5, -0.35, 0.05, 0.3,
    0.5, -0.45, 0.05, 0.45, -0.42, -0.05, 0.55, -0.5, 0.05, 0.3,
    -0.25, 0.15, 0.05, -0.2, 0.15, -0.05, 0.1, -0.1, 0.15, -0.15,
    0.12, -0.05, 0.13, -0.15, 0.1, 0.12, -0.3, 0.45, -0.15, 0.05,
    -0.5, 0.63, -0.65, 0.25, 0.45, -0.5, 0.58, -0.7, 0.75, 0.3,
    -0.5, 0.5, -0.35, 0.1, 0.3, -0.35, 0.25, 0.02, -0.22, 0.25,
    -0.15, 0.05, 0.15, -0.22, 0.2, -0.2, 0.12, 0.15, -0.25, 0.25,
    -0.1, 0.08, 0.2, -0.3, 0.32, -0.15, 0.08, 0.25, -0.28, 0.28,
    -0.15, 0.05, 0.25, -0.28, 0.3, -0.2, 0.08, 0.28, -0.3, 0.3,
    -0.15, -0.02, 0.28, -0.28, 0.25, -0.15, 0.02, 0.22, -0.22, 0.2,
    -0.1, 0.05, 0.15, -0.2, 0.15, -0.08, 0.02, 0.15, -0.2, 0.18,
    -0.1, -0.02, 0.2, -0.25, 0.25, -0.15, 0.05, 0.3, -0.32, 0.3,
    -0.15, 0.02, 0.25, -0.25, 0.2, -0.1, 0.02, 0.12, -0.08, 0.05,
    0.05, 0.06, 0.05, 0.04, 0.06, 0.08, -0.1, 0.2, -0.22, 0.3,
    -0.2, 0.05, 0.38, -0.42, 0.42, -0.5, 0.62, 0.05, -0.38, 0.45,
    -0.4, 0.25, 0.1, -0.42, 0.38, -0.3, 0.18, 0.18, -0.32, 0.33,
    -0.22, 0.05, 0.3, -0.42, 0.38, -0.28, 0.12, 0.38, -0.45, 0.45,
    -0.35, 0.1, 0.55, -0.45, 0.25, 0.25, -0.5, 0.5, -0.25, 0.02,
    0.38, -0.35, 0.25, 0.08, -0.25, 0.28, -0.15, 0.02, 0.15, -0.12,
    0.12, 0.02, -0.05, 0.1, -0.02, 0.02, 0.07, 0.1,
]

ninth_test = [
    0.38, -0.45, 0.52, -0.52, 0.57, -0.52, 0.55, -0.45, 0.42, -0.35,
    0.3, -0.2, 0.1, -0.05, 0.04, -0.03, 0.03, -0.03, 0.08, -0.05,
    0.08, -0.05, 0.05, -0.03, 0.03, -0.08, 0.15, -0.17, 0.2, -0.2,
    0.22, -0.18, 0.15, -0.1, 0.05, -0.05, 0.1, -0.12, 0.17, -0.2,
    0.22, -0.22, 0.2, -0.18, 0.12, -0.08, 0.05, -0.03, 0.03, -0.02,
    0.04, -0.03, 0.03, -0.06, 0.08, -0.1, 0.15, -0.18, 0.22, -0.25,
    0.27, -0.28, 0.28, -0.28, 0.27, -0.25, 0.2, -0.15, 0.1, -0.07,
    0.08, -0.12, 0.15, -0.18, 0.2, -0.2, 0.18, -0.15, 0.1, -0.06,
    0.05, -0.03, 0.02, 0.0, 0.03, 0.0, 0.02, -0.05, 0.15, -0.3,
    0.38, -0.45, 0.5, -0.5, 0.5, -0.45, 0.48, -0.4, 0.3, -0.2,
    0.1, -0.05, 0.05, -0.1, 0.08, -0.1, 0.18, -0.22, 0.28, -0.3,
    0.32, -0.3, 0.32, -0.3, 0.3, -0.28, 0.3, -0.3, 0.3, -0.32,
    0.33, -0.3, 0.32, -0.28, 0.3, -0.28, 0.25, -0.2, 0.15, -0.1,
    0.05, -0.05, 0.08, -0.2, 0.3, -0.4, 0.48, -0.55, 0.58, -0.58,
    0.6, -0.57, 0.6, -0.55, 0.5, -0.48, 0.43, -0.4, 0.37, -0.35,
    0.33, -0.3, 0.3, -0.28, 0.25, -0.2, 0.18, -0.12, 0.1, -0.06,
    0.05, -0.08, 0.12, -0.17, 0.2, -0.25, 0.28, -0.3, 0.3, -0.3,
    0.28, -0.3, 0.27, -0.25, 0.22, -0.18, 0.12, -0.08, 0.05, -0.05,
    0.05, -0.08, 0.12, -0.2, 0.3, -0.4, 0.45, -0.52, 0.55, -0.57,
    0.6, -0.55, 0.55, -0.52, 0.45, -0.4, 0.3, -0.25, 0.15, 0.1,
]
ninth_pred = [
    -0.38, 0.5, -0.5, 0.55, -0.5, 0.52, -0.42, 0.4, -0.32, 0.28,
    -0.18, 0.1, -0.04, 0.04, -0.02, 0.03, -0.02, 0.07, -0.04, 0.07,
    -0.04, 0.05, -0.02, 0.03, -0.07, 0.13, -0.16, 0.19, -0.19, 0.2,
    -0.17, 0.14, -0.09, 0.05, -0.04, 0.09, -0.11, 0.16, -0.18, 0.2,
    -0.2, 0.19, -0.16, 0.11, -0.07, 0.05, -0.02, 0.03, -0.02, 0.04,
    -0.02, 0.03, -0.05, 0.07, -0.09, 0.14, -0.17, 0.2, -0.23, 0.25,
    -0.26, 0.26, -0.26, 0.25, -0.23, 0.18, -0.14, 0.09, -0.06, 0.07,
    -0.1, 0.14, -0.16, 0.18, -0.18, 0.17, -0.13, 0.09, -0.05, 0.05,
    -0.02, 0.02, 0.01, 0.03, 0.01, 0.02, -0.04, 0.13, -0.27, 0.35,
    -0.42, 0.47, -0.47, 0.48, -0.42, 0.45, -0.37, 0.28, -0.18, 0.09,
    -0.04, 0.05, -0.09, 0.07, -0.09, 0.16, -0.2, 0.26, -0.28, 0.3,
    -0.28, 0.3, -0.28, 0.28, -0.26, 0.28, -0.28, 0.28, -0.3, 0.31,
    -0.28, 0.3, -0.26, 0.28, -0.26, 0.23, -0.18, 0.14, -0.09, 0.05,
    -0.04, 0.07, -0.18, 0.28, -0.37, 0.45, -0.51, 0.55, -0.54, 0.57,
    -0.53, 0.57, -0.51, 0.47, -0.45, 0.4, -0.37, 0.35, -0.32, 0.31,
    -0.28, 0.28, -0.26, 0.23, -0.18, 0.17, -0.11, 0.09, -0.05, 0.05,
    -0.07, 0.11, -0.15, 0.19, -0.23, 0.26, -0.28, 0.28, -0.28, 0.26,
    -0.28, 0.25, -0.23, 0.2, -0.16, 0.11, -0.07, 0.05, -0.04, 0.05,
    -0.07, 0.11, -0.18, 0.28, -0.37, 0.42, -0.48, 0.52, -0.53, 0.57,
    -0.51, 0.52, -0.48, 0.42, -0.37, 0.28, 0.14, -0.25,
]

# ---------------------------------------------------------------- panels
# (y title, test series, predicted series, test colour, y range, y ticks, tick format)
panels = [
    ("Original Signal", orig_test, orig_pred, "#ee82ee", [20.7, 28.15], orig_ticks, "d"),
    ("First mode", first_test, first_pred, "#ee82ee", [24.17, 25.34], first_ticks, ".1f"),
    ("Second mode", second_test, second_pred, "#6f2da8", [-1.52, 1.47], second_ticks, "d"),
    ("Third mode", third_test, third_pred, "#0000ff", [-1.0, 1.0], unit_ticks, ".1f"),
    ("Fourth mode", fourth_test, fourth_pred, "#90ee90", [-0.855, 0.885], half_ticks, ".1f"),
    ("Fifth mode", fifth_test, fifth_pred, "#ffff00", [-0.95, 1.01], fifth_ticks, ".1f"),
    ("Sixth mode", sixth_test, sixth_pred, "#ffa500", [-0.82, 0.75], half_ticks, ".1f"),
    ("Seventh mode", seventh_test, seventh_pred, "#ff0000", [-1.0, 1.0], unit_ticks, ".1f"),
    ("Eighth mode", eighth_test, eighth_pred, "#00ffff", [-1.0, 1.0], unit_ticks, ".1f"),
    ("Ninth mode", ninth_test, ninth_pred, "#7cfc00", [-0.63, 0.65], half_ticks, ".1f"),
]

# pixel geometry of the plotting frames
col_px = [(72.0, 590.0), (692.5, 1207.5)]
row_top_px = [41.0, 190.0, 339.0, 488.0, 635.0]
row_h_px = 124.0
ytitle_px = {(0, 0): 38, (1, 0): 38, (2, 0): 20, (3, 0): 20, (4, 0): 20}

TICK_FONT = dict(family="DejaVu Sans", size=12.5, color="#262626")
LABEL_FONT = dict(family="DejaVu Sans", size=12, color="#262626")

fig = go.Figure()
layout = {}
annotations = []

for i, (name, test, pred, colour, yr, yt, fmt) in enumerate(panels):
    k = i + 1
    row, col = divmod(i, 2)
    xa = "x" if k == 1 else f"x{k}"
    ya = "y" if k == 1 else f"y{k}"

    x_test = list(range(len(test)))
    x_pred = list(range(1, len(pred) + 1))

    fig.add_trace(go.Scatter(x=x_test, y=test, mode="lines",
                             line=dict(color=colour, width=1.5),
                             xaxis=xa, yaxis=ya, showlegend=False))
    fig.add_trace(go.Scatter(x=x_pred, y=pred, mode="lines",
                             line=dict(color="#000000", width=1.5),
                             xaxis=xa, yaxis=ya, showlegend=False))

    x0, x1 = col_px[col]
    top = row_top_px[row]
    bottom = top + row_h_px
    xdom = [x0 / W, x1 / W]
    ydom = [1 - bottom / H, 1 - top / H]

    axis_common = dict(showline=True, mirror=True, linecolor="#000000", linewidth=1,
                       ticks="outside", ticklen=4, tickcolor="#000000", tickwidth=1,
                       showgrid=False, zeroline=False, tickfont=TICK_FONT, fixedrange=True)

    layout["xaxis" if k == 1 else f"xaxis{k}"] = dict(
        domain=xdom, anchor=ya, range=[-9.95, 208.95],
        tickmode="array", tickvals=x_ticks, **axis_common)
    layout["yaxis" if k == 1 else f"yaxis{k}"] = dict(
        domain=ydom, anchor=xa, range=yr,
        tickmode="array", tickvals=yt, tickformat=fmt, **axis_common)

    tx = ytitle_px.get((row, col), 641) if col == 0 else 641
    annotations.append(dict(
        text=name, xref="paper", yref="paper",
        x=tx / W, y=(ydom[0] + ydom[1]) / 2,
        xanchor="center", yanchor="middle", textangle=-90,
        showarrow=False, font=LABEL_FONT))

annotations.append(dict(
    text="Variational decomposed modes for minimum temperature (frequency 7 days) "
         "for testing and predicted of Port Blair",
    xref="paper", yref="paper", x=611 / W, y=1 - 13 / H,
    xanchor="center", yanchor="middle", showarrow=False,
    font=dict(family="Liberation Serif", size=20, color="#000000")))

layout.update(
    width=W, height=H,
    margin=dict(l=0, r=0, t=0, b=0),
    paper_bgcolor="#ffffff", plot_bgcolor="#ffffff",
    annotations=annotations,
    shapes=[dict(type="rect", xref="paper", yref="paper",
                 x0=5 / W, x1=1211.5 / W, y0=1 - 779 / H, y1=1 - 30 / H,
                 line=dict(color="#00b0f0", width=3), fillcolor="rgba(0,0,0,0)",
                 layer="above")],
)
fig.update_layout(**layout)

fig.write_html("out.html")
